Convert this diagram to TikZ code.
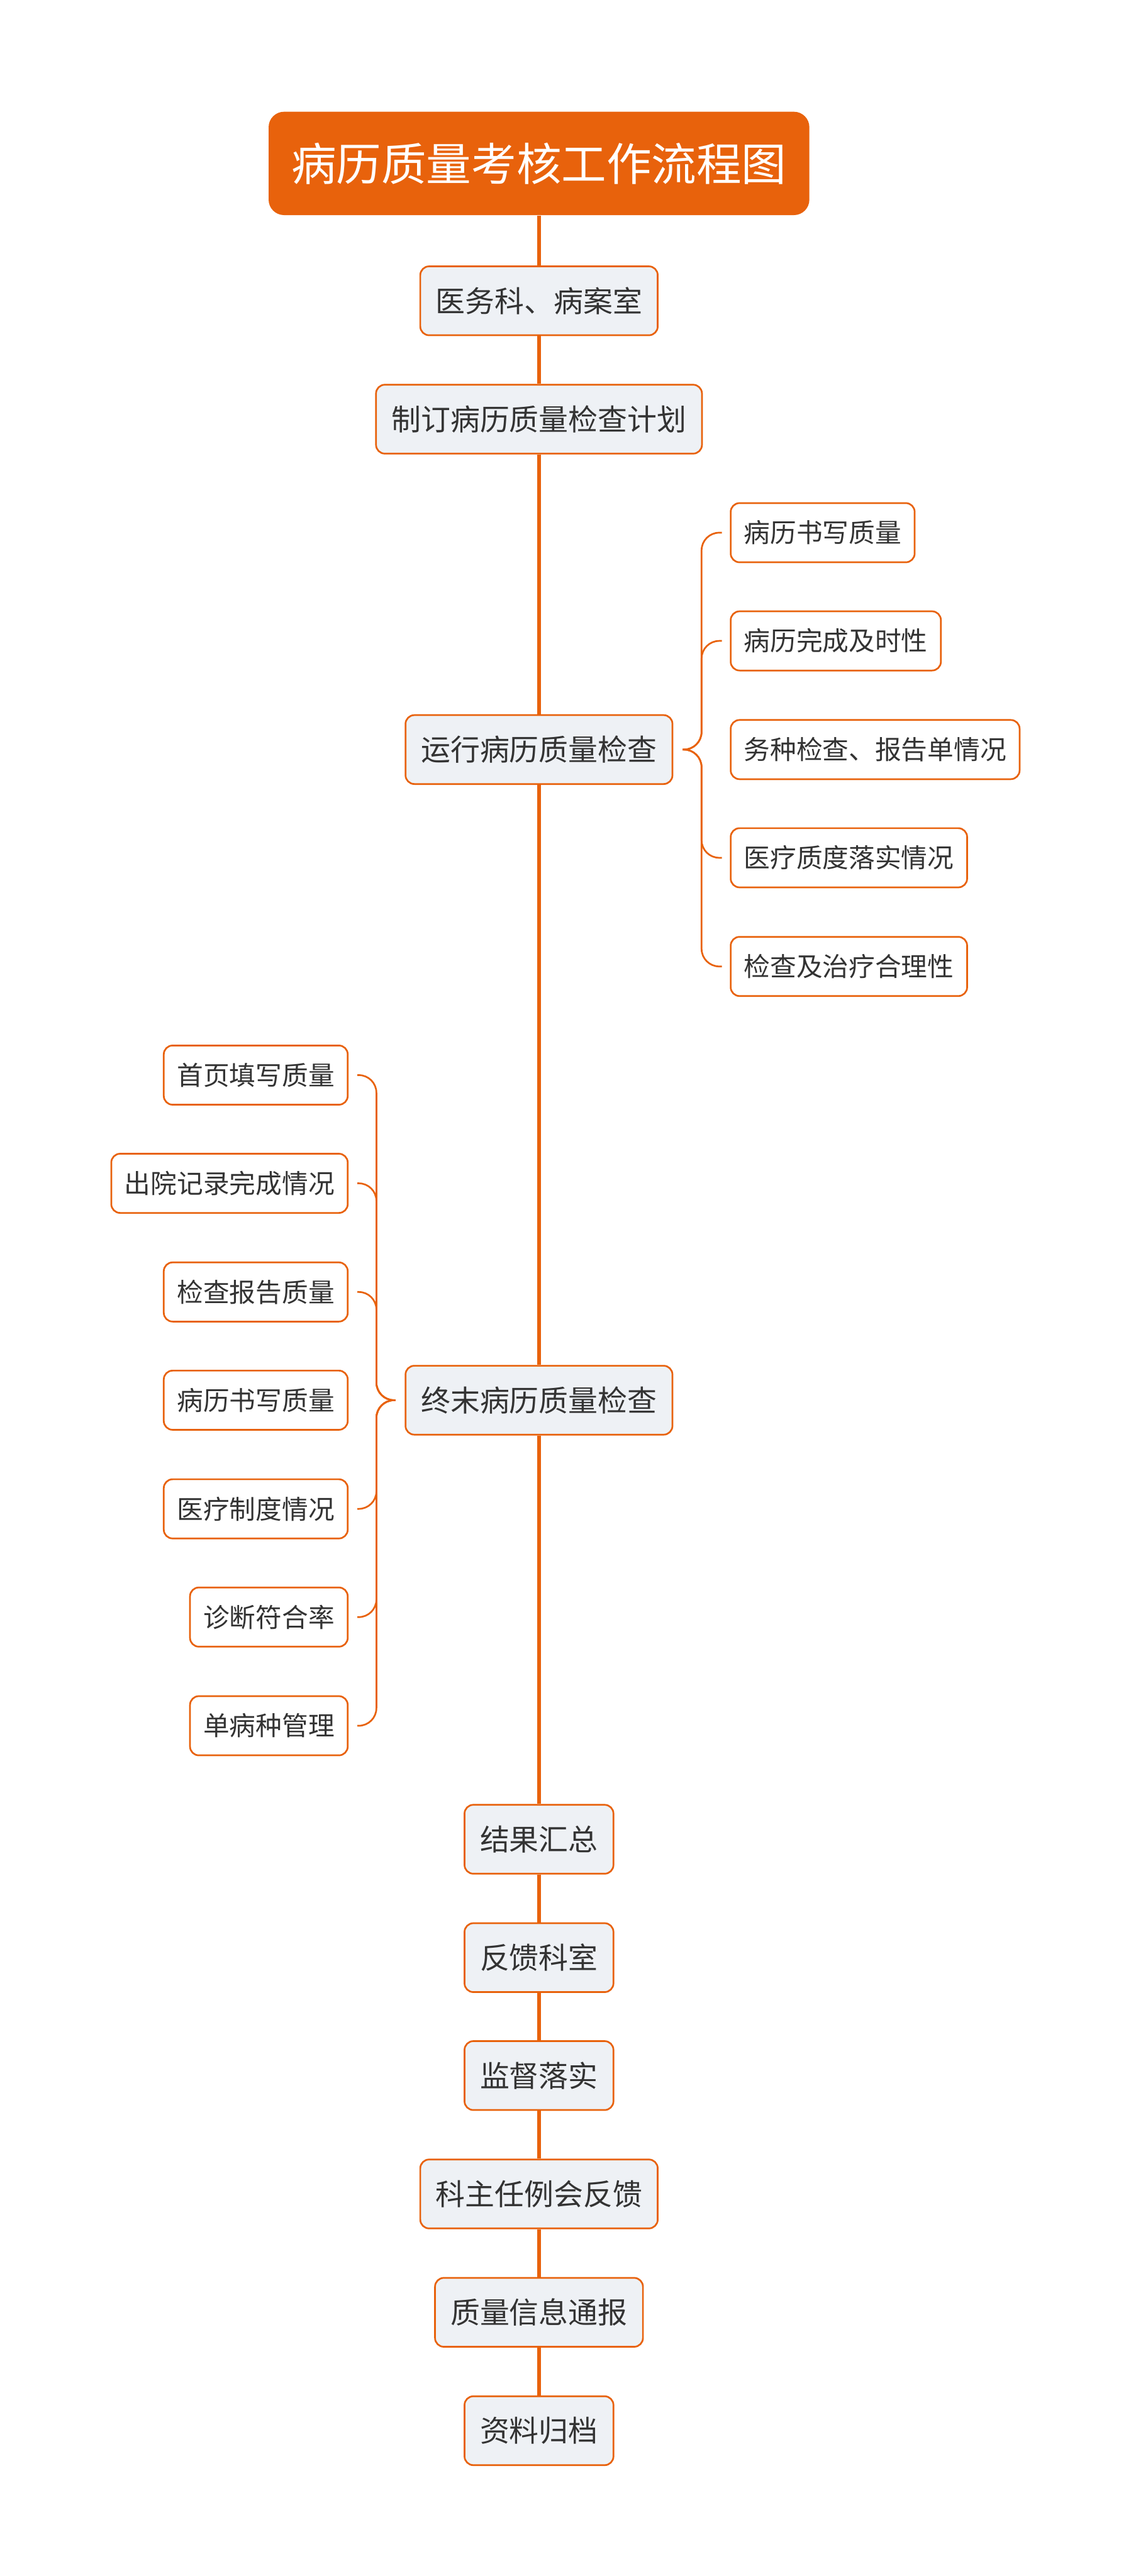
\documentclass[tikz,border=0pt]{standalone}
\usepackage{fontspec}
\setmainfont{Noto Sans CJK SC}
\usepackage{xcolor}
\definecolor{brand}{HTML}{E8620C}
\definecolor{wash}{HTML}{EEF1F5}
\definecolor{ink}{HTML}{333333}
\usepackage{tikz}
\usetikzlibrary{positioning}

\begin{document}
\begin{tikzpicture}[x=1cm,y=1cm,
  titlebox/.style={fill=brand,rounded corners=3.5mm,minimum height=2.34cm,minimum width=12.24cm,inner xsep=2mm,text=white,font=\fontsize{29}{29}\selectfont},
  mainbox/.style={draw=brand,fill=wash,line width=1.1pt,rounded corners=2mm,minimum height=1.56cm,inner xsep=3.5mm,text=ink,font=\fontsize{19}{19}\selectfont},
  subbox/.style={draw=brand,fill=white,line width=1.1pt,rounded corners=2mm,minimum height=1.34cm,inner xsep=3mm,text=ink,font=\fontsize{16.9}{17}\selectfont},
  trunk/.style={brand,line width=2.2pt},
  brace/.style={brand,line width=1.1pt,rounded corners=4mm}]
\useasboundingbox (0,0) rectangle (25.6,-58.32);
% main chain
\node[titlebox] (title) at (12.2,-3.70) {病历质量考核工作流程图};
\node[mainbox] (office) at (12.2,-6.81) {医务科、病案室};
\node[mainbox] (plan) at (12.2,-9.49) {制订病历质量检查计划};
\node[mainbox] (run) at (12.2,-16.97) {运行病历质量检查};
\node[mainbox] (final) at (12.2,-31.70) {终末病历质量检查};
\node[mainbox] (summary) at (12.2,-41.64) {结果汇总};
\node[mainbox] (feedback) at (12.2,-44.32) {反馈科室};
\node[mainbox] (supervise) at (12.2,-46.99) {监督落实};
\node[mainbox] (meeting) at (12.2,-49.67) {科主任例会反馈};
\node[mainbox] (notice) at (12.2,-52.35) {质量信息通报};
\node[mainbox] (archive) at (12.2,-55.03) {资料归档};
% running checks, right side
\node[subbox,anchor=west] (writing) at (16.52,-12.06) {病历书写质量};
\node[subbox,anchor=west] (timely) at (16.52,-14.51) {病历完成及时性};
\node[subbox,anchor=west] (tests) at (16.52,-16.97) {务种检查、报告单情况};
\node[subbox,anchor=west] (care) at (16.52,-19.42) {医疗质度落实情况};
\node[subbox,anchor=west] (treat) at (16.52,-21.88) {检查及治疗合理性};
% final checks, left side
\node[subbox,anchor=east] (front) at (7.89,-24.34) {首页填写质量};
\node[subbox,anchor=east] (discharge) at (7.89,-26.79) {出院记录完成情况};
\node[subbox,anchor=east] (report) at (7.89,-29.25) {检查报告质量};
\node[subbox,anchor=east] (record) at (7.89,-31.70) {病历书写质量};
\node[subbox,anchor=east] (rules) at (7.89,-34.16) {医疗制度情况};
\node[subbox,anchor=east] (diagnosis) at (7.89,-36.61) {诊断符合率};
\node[subbox,anchor=east] (disease) at (7.89,-39.07) {单病种管理};
% trunk
\draw[trunk] (title)--(office);\draw[trunk] (office)--(plan);\draw[trunk] (plan)--(run);\draw[trunk] (run)--(final);\draw[trunk] (final)--(summary);
\draw[trunk] (summary)--(feedback);\draw[trunk] (feedback)--(supervise);\draw[trunk] (supervise)--(meeting);\draw[trunk] (meeting)--(notice);\draw[trunk] (notice)--(archive);
% braces
\draw[brace] ([xshift=2.1mm]run.east) -| ([xshift=-6.4mm]writing.west) -- ([xshift=-1.8mm]writing.west);
\draw[brace] ([xshift=2.1mm]run.east) -| ([xshift=-6.4mm]timely.west) -- ([xshift=-1.8mm]timely.west);
\draw[brace] ([xshift=2.1mm]run.east) -| ([xshift=-6.4mm]care.west) -- ([xshift=-1.8mm]care.west);
\draw[brace] ([xshift=2.1mm]run.east) -| ([xshift=-6.4mm]treat.west) -- ([xshift=-1.8mm]treat.west);
\draw[brace] ([xshift=-2.1mm]final.west) -| ([xshift=6.3mm]front.east) -- ([xshift=2mm]front.east);
\draw[brace] ([xshift=-2.1mm]final.west) -| ([xshift=6.3mm]discharge.east) -- ([xshift=2mm]discharge.east);
\draw[brace] ([xshift=-2.1mm]final.west) -| ([xshift=6.3mm]report.east) -- ([xshift=2mm]report.east);
\draw[brace] ([xshift=-2.1mm]final.west) -| ([xshift=6.3mm]rules.east) -- ([xshift=2mm]rules.east);
\draw[brace] ([xshift=-2.1mm]final.west) -| ([xshift=6.3mm]diagnosis.east) -- ([xshift=2mm]diagnosis.east);
\draw[brace] ([xshift=-2.1mm]final.west) -| ([xshift=6.3mm]disease.east) -- ([xshift=2mm]disease.east);
\end{tikzpicture}
\end{document}
